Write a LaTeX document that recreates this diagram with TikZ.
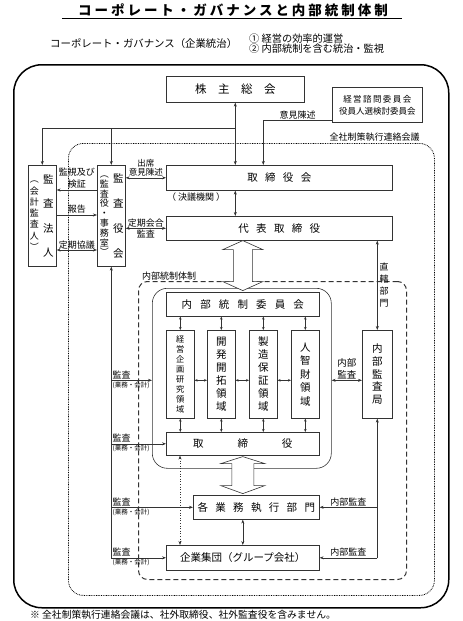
\documentclass[tikz,border=0pt]{standalone}
\usepackage{fontspec}
\setmainfont{Noto Sans CJK JP}
\usetikzlibrary{arrows.meta, calc}

\newcommand{\sk}[1][0.7em]{\hspace{#1}}

\begin{document}
\begin{tikzpicture}[x=1pt, y=-1pt,
box/.style={draw=black!80, line width=0.6pt, fill=white, inner sep=0pt, anchor=north west, font=\fontsize{10.5}{12}\selectfont},
tate/.style={inner sep=0pt, align=center},
arr/.style={draw=black!80, line width=0.6pt, -{Stealth[length=4pt, width=3pt]}},
darr/.style={draw=black!80, line width=0.6pt, {Stealth[length=4pt, width=3pt]}-{Stealth[length=4pt, width=3pt]}},
sdarr/.style={draw=black!80, line width=0.6pt, {Stealth[length=3pt, width=2.6pt]}-{Stealth[length=3pt, width=2.6pt]}},
lbl/.style={font=\fontsize{9}{11}\selectfont, inner sep=1pt},
note/.style={font=\fontsize{6.5}{7}\selectfont, inner sep=1pt},
hollow/.style={draw=black!80, line width=0.6pt, fill=white}
]
\useasboundingbox (0,0) rectangle (463,621);

% Title and headings
\node[anchor=base, inner sep=0pt, font=\fontsize{13.5}{16}\selectfont\bfseries\addfontfeature{LetterSpace=22}] (title) at (233,16) {コーポレート・ガバナンスと内部統制体制};
\draw[line width=1pt] ([xshift=-16pt, yshift=-2.5pt]title.base west) -- ([xshift=14pt, yshift=-2.5pt]title.base east);
\node[anchor=west, inner sep=0pt, font=\fontsize{10.4}{12}\selectfont] (cg) at (50,44) {コーポレート・ガバナンス（企業統治）};
\node[anchor=west, inner sep=0pt, align=left, font=\fontsize{10.2}{10}\selectfont] (aims) at (249,43.5) {① 経営の効率的運営\\② 内部統制を含む統治・監視};

% Frames
\node[draw, line width=1.5pt, rounded corners=28pt, minimum width=435pt, minimum height=543pt, anchor=north west] (outer) at (13,64) {};
\node[draw=black, line width=0.8pt, dash pattern=on 0.8pt off 0.9pt, rounded corners=15pt, minimum width=366pt, minimum height=452pt, anchor=north west] (zensha) at (68,143) {};
\node[lbl, anchor=south east] at ([xshift=-14pt]zensha.north east) {全社制策執行連絡会議};
\node[draw=black!80, line width=1pt, dash pattern=on 5pt off 3pt, rounded corners=9pt, minimum width=268pt, minimum height=298pt, anchor=north west] (taisei) at (138,281) {};
\node[lbl, anchor=south west] at ([xshift=3pt]taisei.north west) {内部統制体制};
\node[draw=black!80, line width=0.6pt, rounded corners=15pt, minimum width=179pt, minimum height=180pt, anchor=north west] (icbox) at (152,288) {};

% Top boxes
\node[box, minimum width=138pt, minimum height=26pt, font=\fontsize{11.5}{12}\selectfont] (kabu) at (166,76) {株　主　総　会};
\node[box, minimum width=90pt, minimum height=35pt, align=center, font=\fontsize{8.5}{12}\selectfont] (shimon) at (332,87) {経\,営\,諮\,問\,委\,員\,会\\役員人選検討委員会};
\node[box, minimum width=226pt, minimum height=25pt] (torikai) at (166,165) {取\sk 締\sk 役\sk 会};
\node[lbl, anchor=north west] at ([yshift=-1pt]torikai.south west) {（ 決議機関 ）};
\node[box, minimum width=226pt, minimum height=24pt] (dai) at (166,216) {代\sk 表\sk 取\sk 締\sk 役};

% Auditors
\node[box, minimum width=28pt, minimum height=101pt] (hojin) at (28,165) {};
\node[tate, font=\fontsize{10.5}{24.5}\selectfont] at ([xshift=6pt]hojin.center) {監\\査\\法\\人};
\node[tate, font=\fontsize{9}{11.3}\selectfont] at ([xshift=-8pt]hojin.center) {︵\\会\\計\\監\\査\\人\\︶};
\node[box, minimum width=28pt, minimum height=101pt] (kansayaku) at (97,165) {};
\node[tate, font=\fontsize{10.5}{25}\selectfont] at ([xshift=7pt]kansayaku.center) {監\\査\\役\\会};
\node[tate, font=\fontsize{9}{9.8}\selectfont] at ([xshift=-7pt]kansayaku.center) {︵\\監\\査\\役\\・\\事\\務\\室\\︶};

% Internal control
\node[box, minimum width=153pt, minimum height=24pt] (ic) at (166,292) {内\sk[0.55em] 部\sk[0.55em] 統\sk[0.55em] 制\sk[0.55em] 委\sk[0.55em] 員\sk[0.55em] 会};
\node[box, minimum width=28pt, minimum height=88pt, align=center, font=\fontsize{8.2}{10}\selectfont] (a1) at (166,330) {経\\営\\企\\画\\研\\究\\領\\域};
\node[box, minimum width=28pt, minimum height=88pt, align=center, font=\fontsize{10.5}{13}\selectfont] (a2) at (207,330) {開\\発\\開\\拓\\領\\域};
\node[box, minimum width=28pt, minimum height=88pt, align=center, font=\fontsize{10.5}{13}\selectfont] (a3) at (249,330) {製\\造\\保\\証\\領\\域};
\node[box, minimum width=28pt, minimum height=88pt, align=center, font=\fontsize{10.5}{13.5}\selectfont] (a4) at (291,330) {人\\智\\財\\領\\域};
\node[box, minimum width=153pt, minimum height=23pt] (tori) at (166,432) {取\sk[3em] 締\sk[3em] 役};
\node[box, minimum width=30pt, minimum height=88pt, align=center, font=\fontsize{10.5}{12.7}\selectfont] (naikan) at (362,330) {内\\部\\監\\査\\局};
\node[box, minimum width=126pt, minimum height=24pt] (gyomu) at (193,495) {各\sk 業\sk 務\sk 執\sk 行\sk 部\sk 門};
\node[box, minimum width=153pt, minimum height=25pt] (kigyo) at (166,545) {企業集団（グループ会社）};

% Shareholders and advisory
\coordinate (jn) at ([yshift=-26pt]kabu.south);
\draw[darr] (kabu.south) -- (kabu.south |- torikai.north);
\draw[arr] (jn) -| (hojin.north);
\draw[arr] (kansayaku.north |- jn) -- (kansayaku.north);
\draw[arr] ([yshift=2pt]shimon.south west) -| node[pos=0.25, above, lbl]{意見陳述} ([xshift=-16pt]torikai.north);

% Board links
\draw[darr] (kansayaku.east |- torikai.west) -- node[above, lbl, align=center, font=\fontsize{8.5}{9.5}\selectfont]{出席\\意見陳述} (torikai.west);
\draw[darr] (kansayaku.east |- dai.west) -- node[above, lbl, inner sep=0.5pt]{定期会合} node[below, lbl]{監査} (dai.west);
\draw[darr] (torikai.south -| jn) -- (dai.north -| jn);

% Auditor links
\draw[arr] ([yshift=-25pt]kansayaku.north west) -- node[above, lbl, align=center, font=\fontsize{9}{12}\selectfont]{監視及び\\検証} ([yshift=-25pt]hojin.north east);
\draw[arr] ([yshift=-50pt]hojin.north east) -- node[above, lbl]{報告} ([yshift=-50pt]kansayaku.north west);
\draw[darr] ([yshift=-85pt]hojin.north east) -- node[above, lbl, inner sep=0.5pt]{定期協議} ([yshift=-85pt]kansayaku.north west);

% Hollow arrows
\draw[hollow] (ic.north |- dai.south) -- ++(20,9) -- ++(-10.5,0) -- ++(0,32) -- ++(10.5,0) -- ++(-20,9) -- ++(-20,-9) -- ++(10.5,0) -- ++(0,-32) -- ++(-10.5,0) -- cycle;
\draw[hollow] ([yshift=-1pt]tori.south) -- ++(22,7) -- ++(-11,0) -- ++(0,22) -- ++(11,0) -- ++(-22,8) -- ++(-22,-8) -- ++(11,0) -- ++(0,-22) -- ++(-11,0) -- cycle;

% Committee and areas
\coordinate (row) at ([yshift=-6pt]a1.center);
\draw[sdarr] (a1.north) -- (a1.north |- ic.south);
\draw[sdarr] (a2.north) -- (a2.north |- ic.south);
\draw[sdarr] (a3.north) -- (a3.north |- ic.south);
\draw[sdarr] (a4.north) -- (a4.north |- ic.south);
\draw[sdarr] (a1.south) -- (a1.south |- tori.north);
\draw[sdarr] (a2.south) -- (a2.south |- tori.north);
\draw[sdarr] (a3.south) -- (a3.south |- tori.north);
\draw[sdarr] (a4.south) -- (a4.south |- tori.north);
\draw[sdarr] (a1.east |- row) -- (a2.west |- row);
\draw[sdarr] (a2.east |- row) -- (a3.west |- row);
\draw[sdarr] (a3.east |- row) -- (a4.west |- row);
\draw[darr] (icbox.east |- row) -- node[above, lbl, align=center, font=\fontsize{9.5}{12}\selectfont]{内部\\監査} (naikan.west |- row);
\draw[darr] (dai.south -| naikan.north) -- node[right, tate, xshift=2pt, font=\fontsize{9}{12}\selectfont]{直\\轄\\部\\門} (naikan.north);

% Audits (business and accounting)
\draw[arr] (kansayaku.south |- kigyo.west) -- (kansayaku.south);
\draw[arr] (kansayaku.south |- row) -- node[pos=0, above right, lbl]{監査} node[pos=0, below right, note]{(業務・会計)} (icbox.west |- row);
\draw[arr] (kansayaku.south |- tori.west) -- node[pos=0, above right, lbl]{監査} node[pos=0, below right, note]{(業務・会計)} (tori.west);
\draw[arr] (kansayaku.south |- gyomu.west) -- node[pos=0, above right, lbl]{監査} node[pos=0, below right, note]{(業務・会計)} (gyomu.west);
\draw[arr] (kansayaku.south |- kigyo.west) -- node[pos=0, above right, lbl]{監査} node[pos=0, below right, note]{(業務・会計)} (kigyo.west);

% Internal audit
\draw[arr] (naikan.south |- kigyo.east) -- (naikan.south);
\draw[arr] (naikan.south |- gyomu.east) -- node[above, lbl]{内部監査} (gyomu.east);
\draw[arr] (naikan.south |- kigyo.east) -- node[above, lbl]{内部監査} (kigyo.east);

% Operations
\draw[darr] (kigyo.north |- gyomu.south) -- (kigyo.north);
\draw[darr, dotted] ([xshift=14pt]tori.south west) -- ([xshift=14pt]kigyo.north west);

% Footnote
\node[anchor=west, inner sep=0pt, font=\fontsize{9.8}{12}\selectfont] (foot) at (30,615) {※ 全社制策執行連絡会議は、社外取締役、社外監査役を含みません。};

\end{tikzpicture}
\end{document}
